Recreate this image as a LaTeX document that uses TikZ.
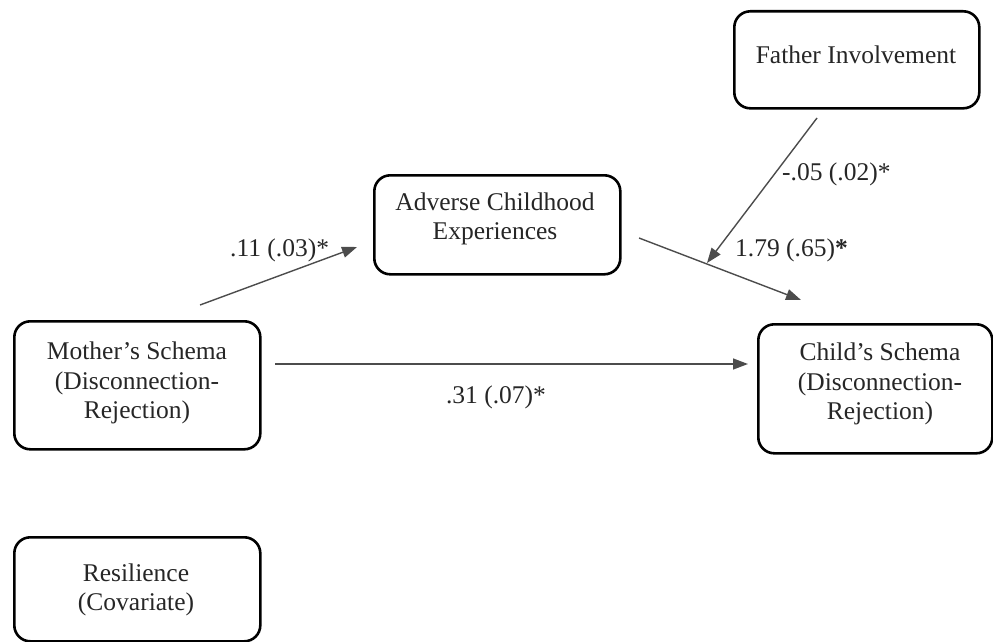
\documentclass[tikz,border=0pt]{standalone}
\usepackage{fontspec}
\setmainfont{Liberation Serif}
\usetikzlibrary{arrows.meta}
\begin{document}
\begin{tikzpicture}[x=1pt,y=-1pt,
  box/.style={draw=black,line width=2.6pt,rounded corners=16pt,anchor=north west,inner sep=0pt},
  txt/.style={font=\fontsize{25.5}{29.5}\selectfont,align=center,inner sep=0pt,text=black!85},
  lbl/.style={font=\fontsize{25.5}{29}\selectfont,inner sep=0pt,text=black!85},
  arr/.style={draw=black!70,line width=1.4pt,-{Triangle[length=15pt,width=11pt]}}]
\useasboundingbox (0,0) rectangle (993,642);
% boxes
\node[box,minimum width=245pt,minimum height=97pt] (fi) at (733,10) {};
\node[box,minimum width=246pt,minimum height=99pt] (ace) at (373,174) {};
\node[box,minimum width=246pt,minimum height=128pt] (ms) at (13,320) {};
\node[box,minimum width=234pt,minimum height=129pt] (cs) at (757,323) {};
\node[box,minimum width=246pt,minimum height=104pt] (rs) at (13,536) {};
% texts
\node[txt] (fit) at (856,55) {Father Involvement};
\node[txt] (acet) at (495,219) {Adverse Childhood\\Experiences};
\node[txt] (mst) at (137,383) {Mother’s Schema\\(Disconnection-\\Rejection)};
\node[txt] (cst) at (880,384) {Child’s Schema\\(Disconnection-\\Rejection)};
\node[txt] (rst) at (136,590) {Resilience\\(Covariate)};
% connector end points
\coordinate (a1) at (200,305);
\coordinate (a2) at (357,247);
\coordinate (b1) at (275,364);
\coordinate (b2) at (748,364);
\coordinate (c1) at (639,238);
\coordinate (c2) at (801,300);
\coordinate (d1) at (817,118);
\coordinate (d2) at (707,263);
\draw[arr] (a1) -- (a2);
\draw[arr] (b1) -- (b2);
\draw[arr] (c1) -- (c2);
\draw[arr] (d1) -- (d2);
% labels
\node[lbl,anchor=west] (l1) at (230,250) {.11 (.03)*};
\node[lbl,anchor=west] (l2) at (782,174) {-.05 (.02)*};
\node[lbl,anchor=west] (l3) at (735,250) {1.79 (.65)\textbf{*}};
\node[lbl] (l4) at (496,397) {.31 (.07)*};
\end{tikzpicture}
\end{document}
